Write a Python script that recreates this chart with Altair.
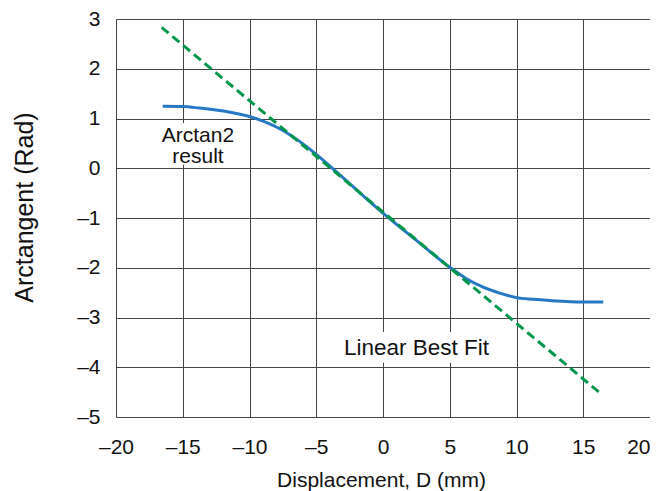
import altair as alt
import pandas as pd

# Arctan2 result curve
arc_x = [-16.5, -15.0, -13.75, -12.5, -11.25, -10.0, -8.75, -7.5, -6.25, -5.0, -2.5, 0.0,
         2.5, 5.0, 6.25, 7.5, 8.75, 10.0, 11.25, 12.5, 15.0, 16.5]
arc_y = [1.245, 1.24, 1.21, 1.17, 1.115, 1.04, 0.92, 0.76, 0.54, 0.28, -0.31, -0.90,
         -1.45, -1.99, -2.22, -2.39, -2.51, -2.60, -2.635, -2.66, -2.69, -2.69]

# Linear best fit endpoints
fit_x = [-16.58, 16.45]
fit_y = [2.83, -4.56]

# Annotations
lab_text = [["Arctan2", "result"], ["Linear Best Fit"]]
lab_x = [-13.86, 2.51]
lab_y = [0.53, -3.75]
box_x1 = [-16.9, -3.0]
box_x2 = [-10.8, 8.0]
box_y1 = [0.91, -3.29]
box_y2 = [0.07, -3.91]

x_ticks = [-20, -15, -10, -5, 0, 5, 10, 15, 20]
y_ticks = [-5, -4, -3, -2, -1, 0, 1, 2, 3]

FONT = "Liberation Sans"
label_expr = "datum.value < 0 ? '\u2013' + abs(datum.value) : '' + datum.value"

arc = pd.DataFrame({"x": arc_x, "y": arc_y})
fit = pd.DataFrame({"x": fit_x, "y": fit_y})
boxes = pd.DataFrame({"x1": box_x1, "x2": box_x2, "y1": box_y1, "y2": box_y2})

xs = alt.Scale(domain=[-20, 20], nice=False, zero=False)
ys = alt.Scale(domain=[-5, 3], nice=False, zero=False)

x_axis = alt.Axis(values=x_ticks, title="Displacement, D (mm)", ticks=False, domain=False,
                  grid=True, gridColor="#444", gridWidth=1, gridOpacity=1,
                  labelFont=FONT, labelFontSize=21, labelColor="#111", labelPadding=19,
                  labelExpr=label_expr, labelFlush=False, labelOverlap=False,
                  labelAlign=alt.condition("datum.value == 20", alt.value("right"), alt.value("center")),
                  labelBound=False,
                  titleFont=FONT, titleFontSize=21, titleFontWeight="normal", titleColor="#111",
                  titleX=265, titleY=69, titleBaseline="alphabetic")
y_axis = alt.Axis(values=y_ticks, title="Arctangent (Rad)", ticks=False, domain=False,
                  grid=True, gridColor="#444", gridWidth=1, gridOpacity=1,
                  labelFont=FONT, labelFontSize=21, labelColor="#111", labelPadding=16,
                  labelExpr=label_expr, labelFlush=False, labelOverlap=False,
                  titleFont=FONT, titleFontSize=25, titleFontWeight="normal", titleColor="#111",
                  titleX=-84, titleY=188, titleBaseline="alphabetic", titleAngle=-90)

base_grid = alt.Chart(arc).mark_line(opacity=0).encode(
    x=alt.X("x:Q", scale=xs, axis=x_axis),
    y=alt.Y("y:Q", scale=ys, axis=y_axis),
)

fit_line = alt.Chart(fit).mark_line(color="#00964a", strokeWidth=3, strokeDash=[9, 5]).encode(
    x=alt.X("x:Q", scale=xs), y=alt.Y("y:Q", scale=ys)
)

arc_line = alt.Chart(arc).mark_line(color="#2677c4", strokeWidth=3, interpolate="monotone").encode(
    x=alt.X("x:Q", scale=xs), y=alt.Y("y:Q", scale=ys)
)

box_layer = alt.Chart(boxes).mark_rect(color="white").encode(
    x=alt.X("x1:Q", scale=xs), x2="x2:Q",
    y=alt.Y("y1:Q", scale=ys), y2="y2:Q",
)

text1 = alt.Chart(pd.DataFrame({"x": [lab_x[0]], "y": [lab_y[0]], "t": [lab_text[0]]})).mark_text(
    font=FONT, fontSize=21, color="#111", align="center", baseline="alphabetic", lineHeight=21.5
).encode(x=alt.X("x:Q", scale=xs), y=alt.Y("y:Q", scale=ys), text="t")

text2 = alt.Chart(pd.DataFrame({"x": [lab_x[1]], "y": [lab_y[1]], "t": [lab_text[1][0]]})).mark_text(
    font=FONT, fontSize=22.5, color="#111", align="center", baseline="alphabetic"
).encode(x=alt.X("x:Q", scale=xs), y=alt.Y("y:Q", scale=ys), text="t")

chart = alt.layer(base_grid, box_layer, arc_line, fit_line, text1, text2).properties(
    width=534, height=398,
    autosize=alt.AutoSizeParams(type="none"),
    padding={"left": 108, "top": 11, "right": 0, "bottom": 74},
).configure_view(stroke="#333", strokeWidth=1).configure(background="white")

chart.save("out.html", embed_options={"renderer": "svg", "actions": False})
